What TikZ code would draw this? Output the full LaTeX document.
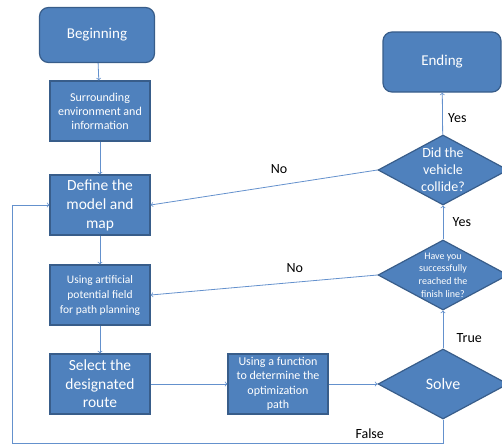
\documentclass[tikz,border=0pt]{standalone}
\usepackage{fontspec}
\setmainfont{Carlito}
\usepackage{tikz}
\usetikzlibrary{shapes.geometric}

\definecolor{boxblue}{RGB}{79,129,189}
\definecolor{boxedge}{RGB}{56,93,138}
\definecolor{linkblue}{RGB}{100,145,205}

\begin{document}
\begin{tikzpicture}[x=1pt, y=-1pt,
  terminal/.style={rectangle, rounded corners=9pt, fill=boxblue, draw=boxedge, line width=1.2pt, text=white, align=center},
  process/.style={rectangle, fill=boxblue, draw=boxedge, line width=1.2pt, text=white, align=center, minimum width=100pt, minimum height=60pt, inner sep=1pt},
  decision/.style={diamond, fill=boxblue, draw=boxedge, line width=1.2pt, text=white, align=center, minimum width=130pt, minimum height=70pt, inner sep=-6pt},
  link/.style={->, draw=linkblue, line width=0.8pt},
  answer/.style={font=\fontsize{14}{16}\selectfont, text=black}]
\clip (0,0) rectangle (502,444);

\node[terminal, minimum width=115pt, minimum height=55pt, font=\fontsize{15}{17}\selectfont] (begin) at (97,35) {Beginning};
\node[process, font=\fontsize{12}{14}\selectfont] (env) at (100,111) {Surrounding\\environment and\\information};
\node[process, font=\fontsize{15.5}{19}\selectfont] (model) at (100,205) {Define the\\model and\\map};
\node[process, font=\fontsize{11.5}{15}\selectfont] (field) at (100,295) {Using artificial\\potential field\\for path planning};
\node[process, font=\fontsize{15.5}{18.5}\selectfont] (route) at (100,384) {Select the\\designated\\route};
\node[process, font=\fontsize{12}{14.5}\selectfont] (optim) at (278,384) {Using a function\\to determine the\\optimization\\path};

\node[decision, font=\fontsize{16}{18}\selectfont] (solve) at (443,384) {Solve};
\node[decision, font=\fontsize{10}{12.7}\selectfont] (finish) at (443,275) {Have you\\successfully\\reached the\\finish line?};
\node[decision, font=\fontsize{14}{17}\selectfont] (collide) at (443,170) {Did the\\vehicle\\collide?};
\node[terminal, minimum width=118pt, minimum height=60pt, font=\fontsize{15}{17}\selectfont] (end) at (442,62) {Ending};

\coordinate (corner) at (12,443);

\draw[link] (begin) -- (env);
\draw[link] (env) -- (model);
\draw[link] (model) -- (field);
\draw[link] (field) -- (route);
\draw[link] (route) -- (optim);
\draw[link] (optim) -- (solve);
\draw[link] (solve) -- (finish) node[answer, midway, right=10pt, yshift=-9pt] {True};
\draw[link] (finish) -- (collide) node[answer, midway, right=6pt] {Yes};
\draw[link] (collide) -- (end) node[answer, midway, right=2pt, yshift=-4pt] {Yes};
\draw[link] (collide.west) -- (model.east) node[answer, pos=0.434, above=8pt] {No};
\draw[link] (finish.west) -- (field.east) node[answer, pos=0.364, above=6pt] {No};
\draw[link] (solve.south) |- (corner) node[answer, pos=0.585, above=1pt] {False} |- (model.west);
\end{tikzpicture}
\end{document}
